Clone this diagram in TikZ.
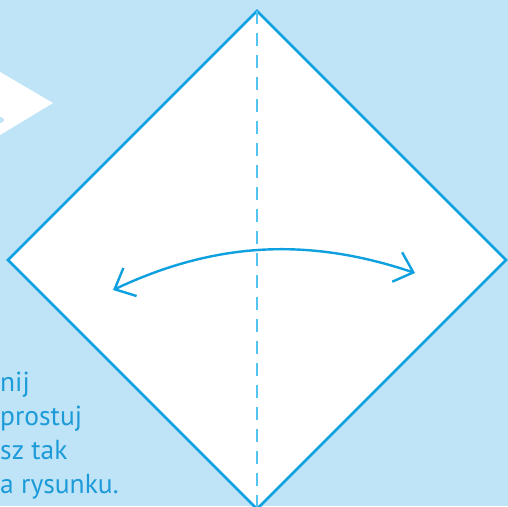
\documentclass[tikz,border=0pt]{standalone}
\usepackage{fontspec}
\setsansfont{PT Sans}
\usepackage{tikz}
\usetikzlibrary{arrows.meta}
\definecolor{skyback}{HTML}{C0E4F7}
\definecolor{foldblue}{HTML}{0FA0DF}
\definecolor{dashblue}{HTML}{55C3F0}
\definecolor{textblue}{HTML}{1C9BD8}

\tikzset{
  sheet/.style={fill=white, draw=foldblue, line width=2.6pt, line join=miter},
  foldline/.style={draw=dashblue, line width=2pt, dash pattern=on 13pt off 9pt},
  turnarrow/.style={draw=foldblue, line width=2.4pt,
    {Straight Barb[length=17pt,width=31pt]}-{Straight Barb[length=17pt,width=31pt]}},
  hint/.style={font=\sffamily\fontsize{27.5}{33.7}\selectfont, text=textblue,
    align=left, inner sep=0pt, anchor=base west}
}

\begin{document}
\begin{tikzpicture}[x=1pt, y=-1pt]
\fill[skyback] (0,0) rectangle (508,506);
\useasboundingbox (0,0) rectangle (508,506);
\begin{scope}
\clip (0,0) rectangle (508,506);
% arrow shape cut by the left edge
\fill[white] (0,72) -- (53,103) -- (0,135) -- cycle;
\fill[skyback] (0,120) ellipse (4pt and 3pt);
% hint text, cut by the left edge (base = last line)
\node[hint] (hinttext) at (0,493) {nij\\prostuj\\sz tak\\a rysunku.};
% the sheet
\coordinate (top) at (257,11);
\coordinate (left) at (8,260);
\coordinate (right) at (506,260);
\coordinate (bottom) at (257,509);
\draw[sheet] (top) -- (right) -- (bottom) -- (left) -- cycle;
\draw[foldline] (top) -- (bottom);
% turn over
\coordinate (turnL) at (113,290);
\coordinate (turnR) at (415,273);
\draw[turnarrow] (turnL) .. controls (215,242) and (308,237) .. (turnR);
\end{scope}
\end{tikzpicture}
\end{document}
